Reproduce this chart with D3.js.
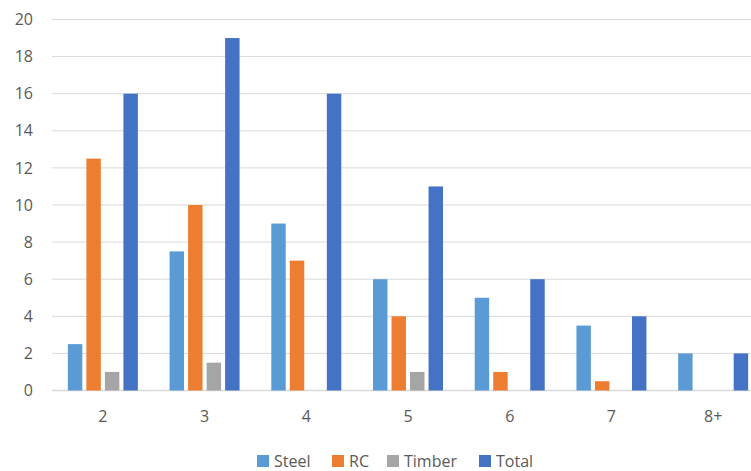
<!DOCTYPE html>
<html><head><meta charset="utf-8">
<script src="https://cdn.jsdelivr.net/npm/d3@7"></script>
<style>body{margin:0;background:#fff}svg{display:block}text{font-family:"Open Sans","Noto Sans",sans-serif;fill:#595959}</style>
</head><body><svg id="c" width="751" height="471"></svg>
<script>
const categories = ["2","3","4","5","6","7","8+"];
const seriesNames = ["Steel","RC","Timber","Total"];
const steel  = [2.5, 7.5, 9, 6, 5, 3.5, 2];
const rc     = [12.5, 10, 7, 4, 1, 0.5, 0];
const timber = [1, 1.5, 0, 1, 0, 0, 0];
const total  = [16, 19, 16, 11, 6, 4, 2];
const yTicks = [0,2,4,6,8,10,12,14,16,18,20];
const colors = ["#5B9BD5","#ED7D31","#A5A5A5","#4472C4"];
const seriesVals = [steel, rc, timber, total];

const svg = d3.select("#c");
const x0 = d3.scaleBand().domain(categories).range([52, 764]).paddingInner(0).paddingOuter(0);
const bw = x0.bandwidth();
const x1 = d3.scaleBand().domain(seriesNames).range([bw/2-35, bw/2+35]).paddingInner(0.22).paddingOuter(0);
const y = d3.scaleLinear().domain([0,20]).range([390.5, 19.5]);

// gridlines
svg.append("g").selectAll("line").data(yTicks).join("line")
  .attr("x1", 52).attr("x2", 751)
  .attr("y1", d=>y(d)).attr("y2", d=>y(d))
  .attr("stroke", "#d9d9d9").attr("stroke-width", d=>d===0?1.5:1);

// y labels
const yAxis = d3.axisLeft(y).tickValues(yTicks).tickSize(0).tickPadding(0);
const gy = svg.append("g").attr("transform","translate(33,0)").call(yAxis);
gy.select(".domain").remove();
gy.selectAll("text").attr("font-size", 16).style("font-family","'Open Sans','Noto Sans',sans-serif").attr("fill","#595959");

// bars
const groups = svg.append("g").selectAll("g").data(categories).join("g")
  .attr("transform", d=>`translate(${x0(d)},0)`);
groups.selectAll("rect").data((c,i)=>seriesNames.map((s,j)=>({s, v: seriesVals[j][i], col: colors[j]})))
  .join("rect")
  .attr("x", d=>x1(d.s)).attr("width", x1.bandwidth())
  .attr("y", d=>y(d.v)).attr("height", d=>y(0)-y(d.v))
  .attr("fill", d=>d.col);

// x labels
const xAxis = d3.axisBottom(x0).tickSize(0).tickPadding(0);
const gx = svg.append("g").attr("transform","translate(0,411)").call(xAxis);
gx.select(".domain").remove();
gx.selectAll("text").attr("font-size", 16).attr("dy","0.71em").style("font-family","'Open Sans','Noto Sans',sans-serif").attr("fill","#595959");

// legend
const legX = [257, 332, 387, 479];
const leg = svg.append("g").selectAll("g").data(seriesNames).join("g")
  .attr("transform",(d,i)=>`translate(${legX[i]},455)`);
leg.append("rect").attr("width",12).attr("height",12).attr("fill",(d,i)=>colors[i]);
leg.append("text").attr("x",17).attr("y",6).attr("dy","0.35em").attr("font-size",16).text(d=>d);
</script></body></html>
